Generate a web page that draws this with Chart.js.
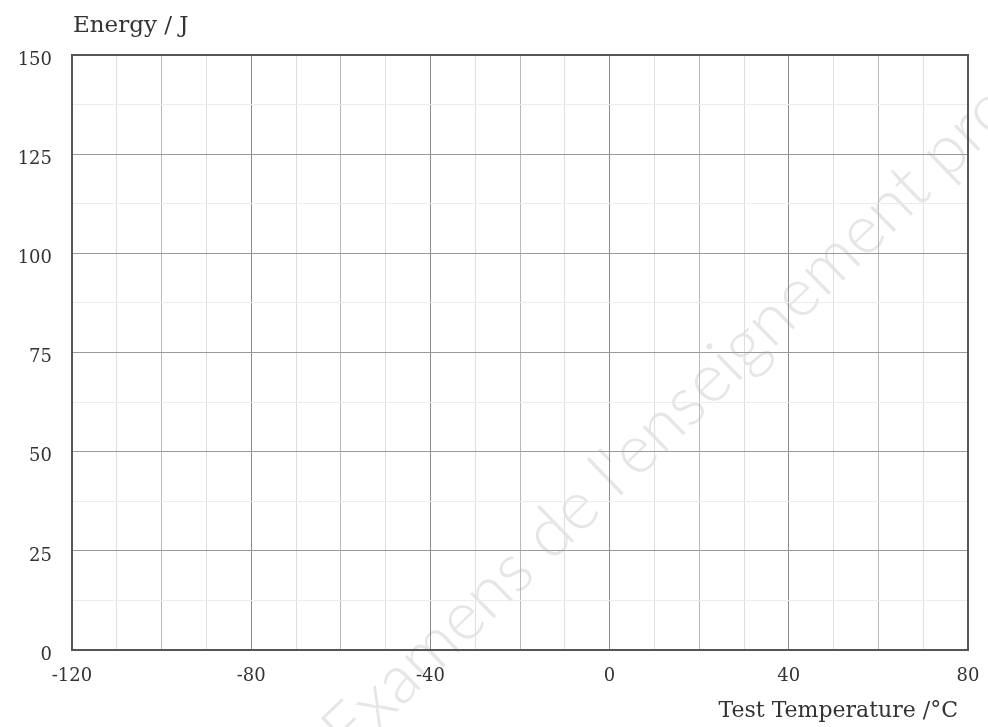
<!DOCTYPE html>
<html>
<head>
<meta charset="utf-8">
<script src="https://cdn.jsdelivr.net/npm/chart.js@4.4.1/dist/chart.umd.min.js"></script>
<style>
  html, body { margin: 0; padding: 0; background: #fff; }
  #c { display: block; }
</style>
</head>
<body>
<canvas id="c" width="988" height="727"></canvas>
<script>
// ---- data (the reference is an empty grid: no plotted points) ----
const temperatures = [];          // Test Temperature / °C
const energies = [];              // Energy / J
const xMin = -120, xMax = 80, xStep = 10;
const yMin = 0, yMax = 150, yStep = 12.5;
const xLabelValues = [-120, -80, -40, 0, 40, 80];
const yLabelValues = [0, 25, 50, 75, 100, 125, 150];
const xTitle = 'Test Temperature /°C';
const yTitle = 'Energy / J';
const watermark = "Examens de l'enseignement professionnel";

const serif = '"DejaVu Serif", "Liberation Serif", serif';

const frame = {
  id: 'frame',
  beforeDraw(chart) {
    const { ctx } = chart;
    ctx.save();
    ctx.fillStyle = '#fff';
    ctx.fillRect(0, 0, chart.width, chart.height);
    let size = 60;
    const fam = ' Lato, "Open Sans", sans-serif';
    ctx.font = '300 ' + size + 'px' + fam;
    const w0 = ctx.measureText("de l'enseignement ").width;
    size = size * 550 / w0;
    ctx.font = '300 ' + size + 'px' + fam;
    ctx.fillStyle = '#e6e6e6';
    ctx.translate(551, 563);
    ctx.rotate(-44 * Math.PI / 180);
    const pre = ctx.measureText('Examens ').width;
    ctx.textBaseline = 'alphabetic';
    ctx.textAlign = 'left';
    ctx.fillText(watermark, -pre, 0);
    ctx.restore();
  },
  afterDraw(chart) {
    const { ctx, chartArea: a } = chart;
    ctx.save();
    ctx.strokeStyle = '#555';
    ctx.lineWidth = 2;
    ctx.strokeRect(a.left, a.top, a.right - a.left, a.bottom - a.top);
    ctx.fillStyle = '#333';
    ctx.textBaseline = 'alphabetic';
    ctx.textAlign = 'left';
    ctx.font = '23px ' + serif;
    ctx.fillText(yTitle, 73, 32);
    ctx.textAlign = 'right';
    ctx.font = '22px ' + serif;
    ctx.fillText(xTitle, 958, 717);
    ctx.restore();
  }
};

new Chart(document.getElementById('c'), {
  type: 'scatter',
  data: {
    datasets: [{
      data: temperatures.map((t, i) => ({ x: t, y: energies[i] })),
      borderColor: '#000', backgroundColor: '#000'
    }]
  },
  options: {
    responsive: false,
    animation: false,
    devicePixelRatio: 1,
    layout: { padding: { top: 55, right: 20, left: 0, bottom: 0 } },
    plugins: { legend: { display: false }, tooltip: { enabled: false } },
    scales: {
      x: {
        type: 'linear', min: xMin, max: xMax,
        afterFit(s) { s.height = 77; s.paddingLeft = 0; s.paddingRight = 0; },
        ticks: {
          stepSize: xStep, autoSkip: false, maxRotation: 0, padding: 16,
          color: '#333', font: { family: serif, size: 18 },
          callback: v => xLabelValues.includes(v) ? String(v) : ''
        },
        grid: {
          drawTicks: false,
          lineWidth: 1,
          color: c => {
            const v = c.tick ? c.tick.value : 0;
            if (v % 40 === 0) return '#8c8c8c';
            if (v % 20 === 0) return '#b8b8b8';
            return '#dedede';
          }
        },
        border: { display: false }
      },
      y: {
        type: 'linear', min: yMin, max: yMax,
        afterFit(s) { s.width = 72; s.paddingTop = 0; s.paddingBottom = 0; },
        ticks: {
          stepSize: yStep, autoSkip: false, padding: 20, labelOffset: 5,
          color: '#333', font: { family: serif, size: 18 },
          callback: v => yLabelValues.includes(v) ? String(v) : ''
        },
        grid: {
          drawTicks: false,
          lineWidth: 1,
          color: c => {
            const v = c.tick ? c.tick.value : 0;
            return (v % 25 === 0) ? '#9a9a9a' : '#ececec';
          }
        },
        border: { display: false }
      }
    }
  },
  plugins: [frame]
});
</script>
</body>
</html>
